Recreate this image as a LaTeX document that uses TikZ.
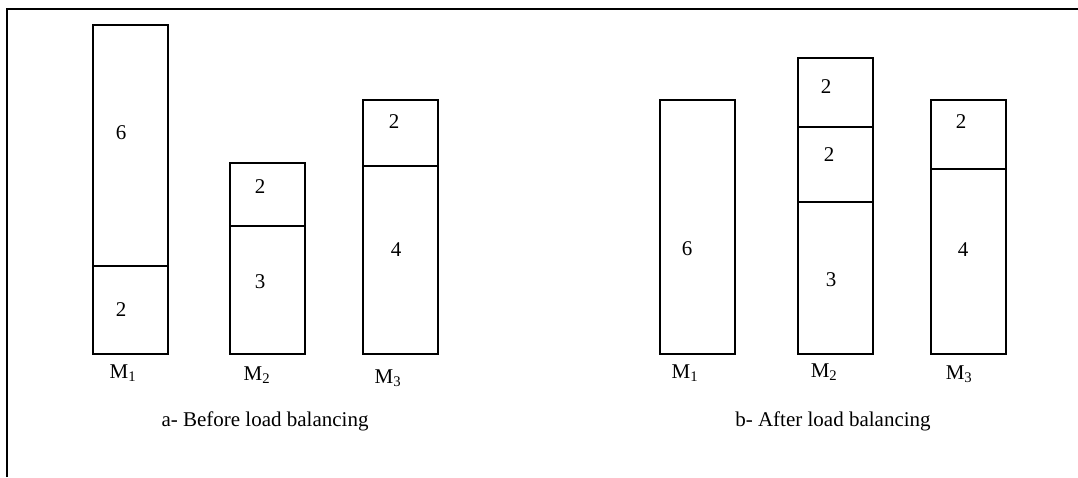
\documentclass[tikz,border=0pt]{standalone}
\usepackage{fontspec}
\setmainfont{Liberation Serif}
\begin{document}
\begin{tikzpicture}[x=1pt, y=-1pt,
  machine/.style={draw, line width=1.5pt, inner sep=0pt, anchor=north west,
    minimum width=75pt},
  divider/.style={line width=1.5pt},
  frameline/.style={line width=1.3pt},
  load/.style={font=\fontsize{21}{24}\selectfont, inner sep=0pt},
  mlabel/.style={font=\fontsize{21}{24}\selectfont, inner sep=0pt, anchor=base},
  caption/.style={font=\fontsize{21}{24}\selectfont, inner sep=0pt, anchor=base}]
\useasboundingbox (0,0) rectangle (1078,477);

% outer frame (top and left edges)
\coordinate (fbl) at (7,477);
\coordinate (ftl) at (7,9);
\coordinate (ftr) at (1078,9);
\draw[frameline] (fbl) -- (ftl) -- (ftr);

% ---- a: before load balancing ----
\node[machine, minimum height=329pt] (a1) at (92,24) {};
\node[machine, minimum height=191pt] (a2) at (229,162) {};
\node[machine, minimum height=254pt] (a3) at (362,99) {};

\draw[divider] (a1.west |- 0,266) -- (a1.east |- 0,266);
\draw[divider] (a2.west |- 0,226) -- (a2.east |- 0,226);
\draw[divider] (a3.west |- 0,166) -- (a3.east |- 0,166);

\node[load] (a1top) at (121,133) {6};
\node[load] (a1bot) at (121,310) {2};
\node[load] (a2top) at (260,187) {2};
\node[load] (a2bot) at (260,282) {3};
\node[load] (a3top) at (394,122) {2};
\node[load] (a3bot) at (396,250) {4};

\node[mlabel] (ma1) at (123,378.5) {M\textsubscript{1}};
\node[mlabel] (ma2) at (257,380) {M\textsubscript{2}};
\node[mlabel] (ma3) at (388,383) {M\textsubscript{3}};

\node[caption] (capa) at (265,426) {a- Before load balancing};

% ---- b: after load balancing ----
\node[machine, minimum height=254pt] (b1) at (659,99) {};
\node[machine, minimum height=296pt] (b2) at (797,57) {};
\node[machine, minimum height=254pt] (b3) at (930,99) {};

\draw[divider] (b2.west |- 0,127) -- (b2.east |- 0,127);
\draw[divider] (799,202) -- (874,202);
\draw[divider] (b3.west |- 0,169) -- (b3.east |- 0,169);

\node[load] (b1mid) at (687,249) {6};
\node[load] (b2top) at (826,87) {2};
\node[load] (b2mid) at (829,155) {2};
\node[load] (b2bot) at (831,280) {3};
\node[load] (b3top) at (961,122) {2};
\node[load] (b3bot) at (963,250) {4};

\node[mlabel] (mb1) at (685,378.5) {M\textsubscript{1}};
\node[mlabel] (mb2) at (824,377) {M\textsubscript{2}};
\node[mlabel] (mb3) at (959,379) {M\textsubscript{3}};

\node[caption] (capb) at (833,426) {b- After load balancing};
\end{tikzpicture}
\end{document}
